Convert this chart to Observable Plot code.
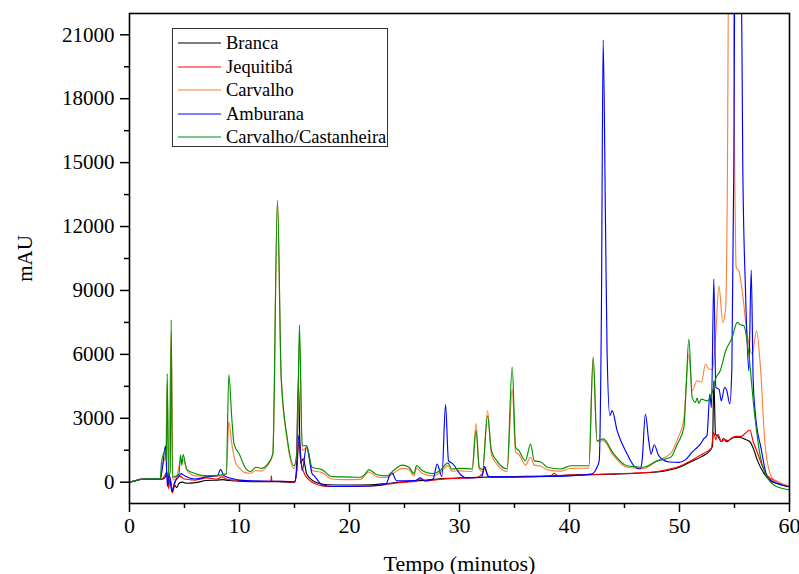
<!DOCTYPE html>
<html>
<head>
<meta charset="utf-8">
<script src="https://cdn.jsdelivr.net/npm/d3@7"></script>
<script src="https://cdn.jsdelivr.net/npm/@observablehq/plot@0.6"></script>
<style>
  html, body { margin: 0; padding: 0; background: #fff; }
  #wrap { position: relative; width: 799px; height: 574px; overflow: hidden; }
  #legend { position: absolute; left: 172px; top: 28px; width: 214px; height: 117px;
    border: 1px solid #333; background: #fff; font-family: "Liberation Serif", serif; font-size: 18.5px; }
  .row { position: absolute; left: 0; height: 20px; display: flex; align-items: center; white-space: nowrap; }
  .row svg { margin-left: 5px; margin-right: 5px; }
</style>
</head>
<body>
<div id="wrap"></div>
<script>
const seriesNames = ["Branca", "Jequitibá", "Carvalho", "Amburana", "Carvalho/Castanheira"];
const seriesColors = ["#000000", "#ff0000", "#ff7f3f", "#0000ff", "#009000"];

const xTicks = [0, 10, 20, 30, 40, 50, 60];
const xMinorTicks = [5, 15, 25, 35, 45, 55];
const yTicks = [0, 3000, 6000, 9000, 12000, 15000, 18000, 21000];
const yMinorTicks = [1500, 4500, 7500, 10500, 13500, 16500, 19500];

// [tempo (min), mAU]
const branca = [[0,0],[0.5,60],[1,130],[2,140],[2.9,130],[3.2,200],[3.4,400],[3.55,-100],[3.7,100],[3.9,-420],[4.1,-150],[4.3,-250],[4.5,-50],[4.8,0],[5.2,-50],[6,-20],[7,80],[8,100],[8.5,120],[9,80],[10,50],[11,30],[12,20],[13,30],[14,10],[15,0],[15.15,300],[15.35,4800],[15.55,900],[15.8,1100],[16.1,400],[16.6,100],[17.2,-50],[18,-120],[20,-130],[22,-120],[23,-80],[24,-30],[25,20],[26,60],[27,100],[28,150],[29,180],[30,200],[32,230],[34,250],[36,270],[38,290],[40,330],[42,350],[44,380],[46,420],[48,480],[49,560],[50,700],[51,950],[52,1200],[52.8,1500],[53.0,1700],[53.12,4760],[53.27,2260],[53.5,2150],[53.8,1900],[54,2050],[54.3,1900],[54.6,2000],[55,2100],[55.5,2100],[56,2000],[56.4,1900],[56.7,1600],[57.1,1000],[57.7,400],[58.3,50],[59,-80],[60,-220]];

const jequitiba = [[0,0],[0.5,60],[1,130],[2,140],[2.9,140],[3.2,300],[3.4,500],[3.55,-300],[3.7,200],[3.9,-500],[4.1,-100],[4.4,300],[4.7,250],[5,150],[6,100],[7,200],[8,150],[8.4,250],[8.8,150],[10,80],[11,50],[12,40],[12.85,40],[12.9,300],[12.95,50],[14,30],[15,0],[15.2,500],[15.4,1900],[15.6,900],[16,300],[16.6,0],[17.2,-130],[18,-200],[20,-200],[22,-180],[23,-120],[24,-60],[25,0],[26,40],[26.5,150],[27,60],[28,120],[29,170],[30,190],[31.5,210],[32.1,400],[32.3,700],[32.6,300],[33,220],[35,240],[37,270],[38.3,300],[38.6,420],[38.9,310],[40,330],[42,360],[44,390],[46,430],[48,500],[49,600],[50,750],[51,1000],[52,1300],[52.9,1600],[53.1,2340],[53.3,2000],[53.5,2250],[53.8,1900],[54.1,2000],[54.4,1950],[54.8,2100],[55.2,2150],[55.6,2150],[56,2300],[56.4,2450],[56.7,1900],[57.0,1500],[57.5,800],[58,300],[59,0],[60,-220]];

const carvalho = [[0,0],[0.5,60],[1,130],[2,150],[2.8,150],[3.0,800],[3.3,1300],[3.43,4600],[3.55,200],[3.79,7000],[3.95,100],[4.3,300],[4.64,1000],[4.88,1050],[5.3,500],[6,300],[7,300],[8,280],[8.8,400],[9.03,2840],[9.3,1800],[9.64,930],[10,650],[10.5,450],[11,420],[11.5,550],[12,520],[12.5,750],[13.03,1300],[13.45,13200],[13.79,4900],[14.33,2000],[14.94,650],[15.24,1500],[15.45,6800],[15.7,1500],[16.1,1600],[16.6,550],[17.5,450],[18.4,150],[19.5,120],[21,130],[21.76,480],[22.5,250],[23.4,220],[24,420],[24.8,650],[25.4,600],[25.85,300],[26.1,650],[26.6,420],[27.5,300],[28.3,470],[28.94,780],[29.3,520],[30.1,530],[31.15,500],[31.5,2760],[31.8,600],[32.1,500],[32.55,3360],[32.9,1300],[33.4,850],[34.33,500],[34.79,4370],[35.1,1400],[35.4,1300],[36.0,800],[36.45,1170],[36.8,800],[37.4,750],[38,580],[39.2,520],[40.1,650],[41.76,660],[42.15,5900],[42.5,1900],[43.06,1950],[44,1250],[45.2,700],[46.7,640],[47.97,1000],[49.2,1350],[49.8,2000],[50.4,3000],[50.85,6010],[51.15,4300],[51.6,4760],[52,4700],[52.36,5550],[52.7,5300],[53.0,5300],[53.3,7000],[53.58,9220],[53.94,7500],[54.2,8200],[54.35,14000],[54.48,25000],[54.8,25000],[55.15,10080],[55.4,9900],[55.7,9000],[56.15,6960],[56.6,6020],[57.0,7110],[57.36,5390],[57.8,1630],[58.4,230],[59,0],[59.9,-160],[60,-170]];

const amburana = [[0,0],[0.5,60],[1,130],[2,150],[2.8,150],[3.0,700],[3.27,1710],[3.45,-200],[3.6,400],[3.85,-450],[4.1,0],[4.4,200],[4.7,400],[5,300],[6,150],[7,250],[8,300],[8.27,600],[8.6,300],[9.5,150],[10,100],[12,50],[14,40],[15,20],[15.2,600],[15.39,2200],[15.7,540],[16.1,1710],[16.6,400],[16.8,300],[17.5,-120],[18.5,-200],[20,-200],[22,-180],[23.3,-100],[23.7,380],[23.85,440],[24.3,60],[26,80],[26.45,200],[26.8,60],[27.6,150],[27.97,850],[28.4,260],[28.73,3640],[29.0,1010],[29.42,850],[30.1,350],[30.7,200],[32,220],[32.27,730],[32.6,260],[35,250],[38,270],[40,300],[42.06,390],[42.5,700],[42.7,1000],[42.9,8000],[43.06,20750],[43.27,12270],[43.42,6020],[43.67,3120],[43.88,3360],[44.33,2420],[45.24,1320],[45.85,770],[46.45,620],[46.6,1000],[46.9,3200],[47.2,1950],[47.42,1320],[47.7,1760],[48.1,1250],[48.7,1000],[49.1,950],[49.94,930],[50.55,1060],[51.15,1410],[51.6,1630],[51.9,1790],[52.2,2030],[52.5,2200],[52.76,4140],[52.9,3500],[53.12,9530],[53.3,4450],[53.6,4350],[53.8,3820],[54.1,4450],[54.3,4300],[54.57,3670],[54.76,5390],[54.94,15000],[55.05,25000],[55.6,25000],[55.75,15000],[56.0,9000],[56.3,5230],[56.52,9960],[56.7,4760],[56.9,3200],[57.4,1630],[58.0,230],[59,-80],[60,-220]];

const castanheira = [[0,0],[0.5,60],[1,130],[2,160],[2.8,150],[2.9,900],[3.1,1340],[3.25,1500],[3.35,1000],[3.43,5100],[3.55,300],[3.7,500],[3.79,7620],[3.9,230],[4.3,300],[4.5,400],[4.64,1290],[4.75,800],[4.88,1300],[5.2,600],[6,400],[7,300],[8,320],[8.8,400],[9.03,5040],[9.3,3000],[9.5,1800],[10,1300],[10.5,700],[11,500],[11.5,700],[12,650],[12.67,930],[13.03,1340],[13.45,13240],[13.79,4920],[14.33,2100],[14.94,770],[15.24,1500],[15.45,7390],[15.7,1710],[16.1,1710],[16.6,700],[17.5,590],[18.4,260],[19.5,250],[21.0,230],[21.45,400],[21.76,590],[22.5,350],[23.4,300],[24.0,550],[24.8,800],[25.4,700],[25.85,400],[26.1,780],[26.6,550],[27.5,400],[28.3,570],[28.94,910],[29.3,620],[30.1,650],[31.15,620],[31.5,2420],[31.8,700],[32.1,600],[32.55,3120],[32.9,1480],[33.4,1000],[34.33,620],[34.79,5420],[35.1,1640],[35.4,1480],[36.0,1000],[36.45,1790],[36.8,1000],[37.4,950],[38.0,700],[39.2,620],[40.1,770],[41.76,770],[42.15,5840],[42.5,1950],[43.06,2030],[44.0,1340],[45.2,770],[46.7,700],[47.97,1000],[49.2,1170],[49.8,1790],[50.4,2570],[50.6,4450],[50.85,6720],[51.15,3980],[51.45,3750],[51.6,3950],[51.75,3700],[52.0,3900],[52.5,3820],[52.97,4210],[53.27,4840],[53.7,5230],[54.2,6170],[54.8,6800],[55.24,7500],[55.5,7400],[55.85,7340],[56.3,6010],[56.76,3510],[57.36,1170],[57.97,230],[58.6,-140],[59.9,-350],[60,-360]];

const seriesData = [branca, jequitiba, carvalho, amburana, castanheira];

const lines = seriesData.map((d, i) => Plot.line(d, {
  x: p => p[0], y: p => p[1], stroke: seriesColors[i], strokeWidth: 1.15,
  curve: "monotone-x", clip: true
}));

const chart = Plot.plot({
  width: 799, height: 574,
  marginLeft: 129, marginRight: 10, marginTop: 13, marginBottom: 71,
  style: {fontFamily: "Liberation Serif", fontSize: "18px", color: "#000", background: "#fff"},
  x: {domain: [0, 60]},
  y: {domain: [-1000, 22000]},
  marks: [
    ...lines,
    Plot.axisX({ticks: xTicks, tickSize: 9, tickPadding: 5, strokeWidth: 1.5,
      label: "Tempo (minutos)", labelAnchor: "center", labelArrow: "none", labelOffset: 67, fontSize: 22}),
    Plot.axisX({ticks: xMinorTicks, tickSize: 5, strokeWidth: 1.5, text: null, label: null}),
    Plot.axisY({ticks: yTicks, tickSize: 9, tickPadding: 6, strokeWidth: 1.5, tickFormat: d => String(d),
      label: "mAU", labelAnchor: "center", labelArrow: "none", labelOffset: 112, fontSize: 21}),
    Plot.axisY({ticks: yMinorTicks, tickSize: 5, strokeWidth: 1.5, text: null, label: null}),
    Plot.frame({strokeWidth: 1.6})
  ]
});

const wrap = document.getElementById("wrap");
wrap.appendChild(chart);

const legend = document.createElement("div");
legend.id = "legend";
seriesNames.forEach((name, i) => {
  const row = document.createElement("div");
  row.className = "row";
  row.style.top = Math.round(4 + i * 23.5) + "px";
  const svgNS = "http://www.w3.org/2000/svg";
  const sw = document.createElementNS(svgNS, "svg");
  sw.setAttribute("width", "43");
  sw.setAttribute("height", "4");
  const ln = document.createElementNS(svgNS, "line");
  ln.setAttribute("x1", "0"); ln.setAttribute("x2", "43");
  ln.setAttribute("y1", "2"); ln.setAttribute("y2", "2");
  ln.setAttribute("stroke", seriesColors[i]);
  ln.setAttribute("stroke-width", "1.2");
  sw.appendChild(ln);
  const lab = document.createElement("span");
  lab.textContent = name;
  row.appendChild(sw);
  row.appendChild(lab);
  legend.appendChild(row);
});
wrap.appendChild(legend);
</script>
</body>
</html>
